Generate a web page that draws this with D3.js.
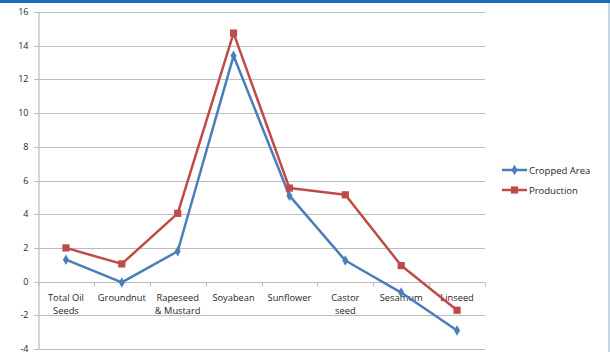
<!DOCTYPE html>
<html>
<head>
<meta charset="utf-8">
<script src="https://cdn.jsdelivr.net/npm/d3@7"></script>
<style>
  html, body { margin: 0; padding: 0; background: #fff; }
  svg { display: block; }
  text { font-family: "Open Sans", "Liberation Sans", sans-serif; fill: #262626; }
</style>
</head>
<body>
<svg id="chart" width="610" height="352"></svg>
<script>
// Growth (%) by crop
const categories = ["Total Oil Seeds", "Groundnut", "Rapeseed & Mustard", "Soyabean",
                    "Sunflower", "Castor seed", "Sesamum", "Linseed"];
const categoryLines = [["Total Oil", "Seeds"], ["Groundnut"], ["Rapeseed", "& Mustard"], ["Soyabean"],
                       ["Sunflower"], ["Castor", "seed"], ["Sesamum"], ["Linseed"]];
const croppedArea = [1.3, -0.05, 1.8, 13.4, 5.1, 1.25, -0.65, -2.9];
const production  = [2.0, 1.05, 4.05, 14.75, 5.55, 5.15, 0.95, -1.7];
const yTicks = [-4, -2, 0, 2, 4, 6, 8, 10, 12, 14, 16];
const seriesNames = ["Cropped Area", "Production"];

const svg = d3.select("#chart");
const W = 610, H = 352;
const plotLeft = 38, plotRight = 485, plotTop = 12, plotBottom = 349;

// frame: blue top band and thin right edge
svg.append("rect").attr("x", 0).attr("y", 0).attr("width", W).attr("height", 3).attr("fill", "#1b6db3");
svg.append("rect").attr("x", 608).attr("y", 3).attr("width", 2).attr("height", H - 3).attr("fill", "#c5d6e6");

const x = d3.scaleBand().domain(categories).range([plotLeft, plotRight]);
const y = d3.scaleLinear().domain([-4, 16]).range([plotBottom, plotTop]);

// horizontal gridlines
svg.append("g").selectAll("line").data(yTicks).join("line")
  .attr("x1", plotLeft).attr("x2", plotRight)
  .attr("y1", d => Math.round(y(d)) + 0.5).attr("y2", d => Math.round(y(d)) + 0.5)
  .attr("stroke", "#bdbdbd").attr("stroke-width", 1.2);

// y axis
const yAxis = d3.axisLeft(y).tickValues(yTicks).tickSize(4).tickPadding(6)
  .tickFormat(d => String(d));
const gy = svg.append("g").attr("transform", `translate(${plotLeft + 0.5},0)`).call(yAxis);
gy.select(".domain").attr("stroke", "#bdbdbd").attr("stroke-width", 1.2);
gy.selectAll(".tick line").attr("stroke", "#bdbdbd");
gy.selectAll(".tick text").attr("font-size", 9).attr("fill", "#262626")
  .attr("font-family", "'Open Sans', sans-serif");
gy.selectAll(".tick").attr("transform", d => `translate(0,${Math.round(y(d)) + 0.5})`);

// category axis along zero line: tick marks at category boundaries
const y0 = Math.round(y(0)) + 0.5;
const boundaries = categories.map(c => x(c)).concat([plotRight]);
svg.append("g").selectAll("line").data(boundaries).join("line")
  .attr("x1", d => Math.round(d) + 0.5).attr("x2", d => Math.round(d) + 0.5)
  .attr("y1", y0).attr("y2", y0 + 4)
  .attr("stroke", "#bdbdbd").attr("stroke-width", 1);

// category labels
const lab = svg.append("g").selectAll("text").data(categories).join("text")
  .attr("x", d => x(d) + x.bandwidth() / 2)
  .attr("y", y0 + 18)
  .attr("text-anchor", "middle")
  .attr("font-size", 9.3);
lab.each(function(d, i) {
  const t = d3.select(this);
  categoryLines[i].forEach((ln, k) => {
    t.append("tspan").attr("x", x(d) + x.bandwidth() / 2).attr("dy", k === 0 ? 0 : 13).text(ln);
  });
});

const colors = ["#4a7ebb", "#be4b48"];
const data = [croppedArea, production];
const line = d3.line().x((d, i) => x(categories[i]) + x.bandwidth() / 2).y(d => y(d));

data.forEach((vals, s) => {
  svg.append("path").datum(vals).attr("d", line)
    .attr("fill", "none").attr("stroke", colors[s]).attr("stroke-width", 2.5)
    .attr("stroke-linejoin", "round");
  const sym = s === 0 ? d3.symbolDiamond : d3.symbolSquare;
  const size = s === 0 ? 32 : 52;
  svg.append("g").selectAll("path").data(vals).join("path")
    .attr("transform", (d, i) => `translate(${x(categories[i]) + x.bandwidth() / 2},${y(d)})`)
    .attr("d", d3.symbol(sym, size))
    .attr("fill", colors[s]);
});

// legend
const legY = [170, 190];
seriesNames.forEach((name, s) => {
  const g = svg.append("g").attr("transform", `translate(502,${legY[s]})`);
  g.append("line").attr("x1", 0).attr("x2", 25).attr("y1", 0).attr("y2", 0)
    .attr("stroke", colors[s]).attr("stroke-width", 2.5);
  g.append("path").attr("transform", "translate(12.5,0)")
    .attr("d", d3.symbol(s === 0 ? d3.symbolDiamond : d3.symbolSquare, s === 0 ? 32 : 52))
    .attr("fill", colors[s]);
  g.append("text").attr("x", 27).attr("y", 3.5).attr("font-size", 9.5).text(name);
});
</script>
</body>
</html>
